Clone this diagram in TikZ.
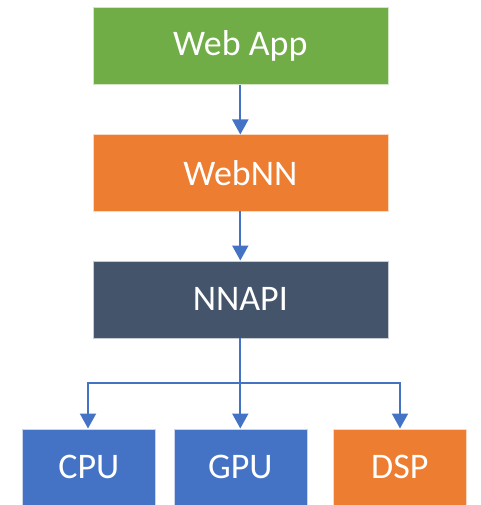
\documentclass[tikz,border=0pt]{standalone}
\usepackage{fontspec}
\setmainfont{Carlito}
\usetikzlibrary{arrows.meta}
\definecolor{appgreen}{HTML}{70AD47}
\definecolor{nnorange}{HTML}{ED7D31}
\definecolor{slate}{HTML}{44546A}
\definecolor{hwblue}{HTML}{4472C4}
\begin{document}
\begin{tikzpicture}[x=1pt,y=-1pt,
  layer/.style={draw=white!70!#1, line width=0.6pt, fill=#1, text=white,
    font=\fontsize{36}{42}\selectfont, inner sep=0pt, anchor=north west},
  link/.style={draw=hwblue, line width=2pt,
    -{Triangle[length=15pt,width=16pt]}}]
  \useasboundingbox (0,0) rectangle (480,505);
  % software stack
  \node[layer=appgreen, minimum width=295pt, minimum height=77pt] (app) at (92.5,7) {Web App};
  \node[layer=nnorange, minimum width=295pt, minimum height=76pt] (webnn) at (92.5,134.5) {WebNN};
  \node[layer=slate, minimum width=295pt, minimum height=77pt] (nnapi) at (92.5,260.5) {NNAPI};
  % hardware targets
  \node[layer=hwblue, minimum width=133pt, minimum height=77pt] (cpu) at (22,428.5) {CPU};
  \node[layer=hwblue, minimum width=133pt, minimum height=77pt] (gpu) at (173.5,428.5) {GPU};
  \node[layer=nnorange, minimum width=133pt, minimum height=77pt] (dsp) at (333,428.5) {DSP};
  \coordinate (split) at (240,383);
  % connectors
  \draw[link] (app.south) -- (webnn.north);
  \draw[link] (webnn.south) -- (nnapi.north);
  \draw[link] (nnapi.south) -- (gpu.north);
  \draw[link] (split) -| (cpu.north-|88,0);
  \draw[link] (split) -| (dsp.north-|400,0);
\end{tikzpicture}
\end{document}
